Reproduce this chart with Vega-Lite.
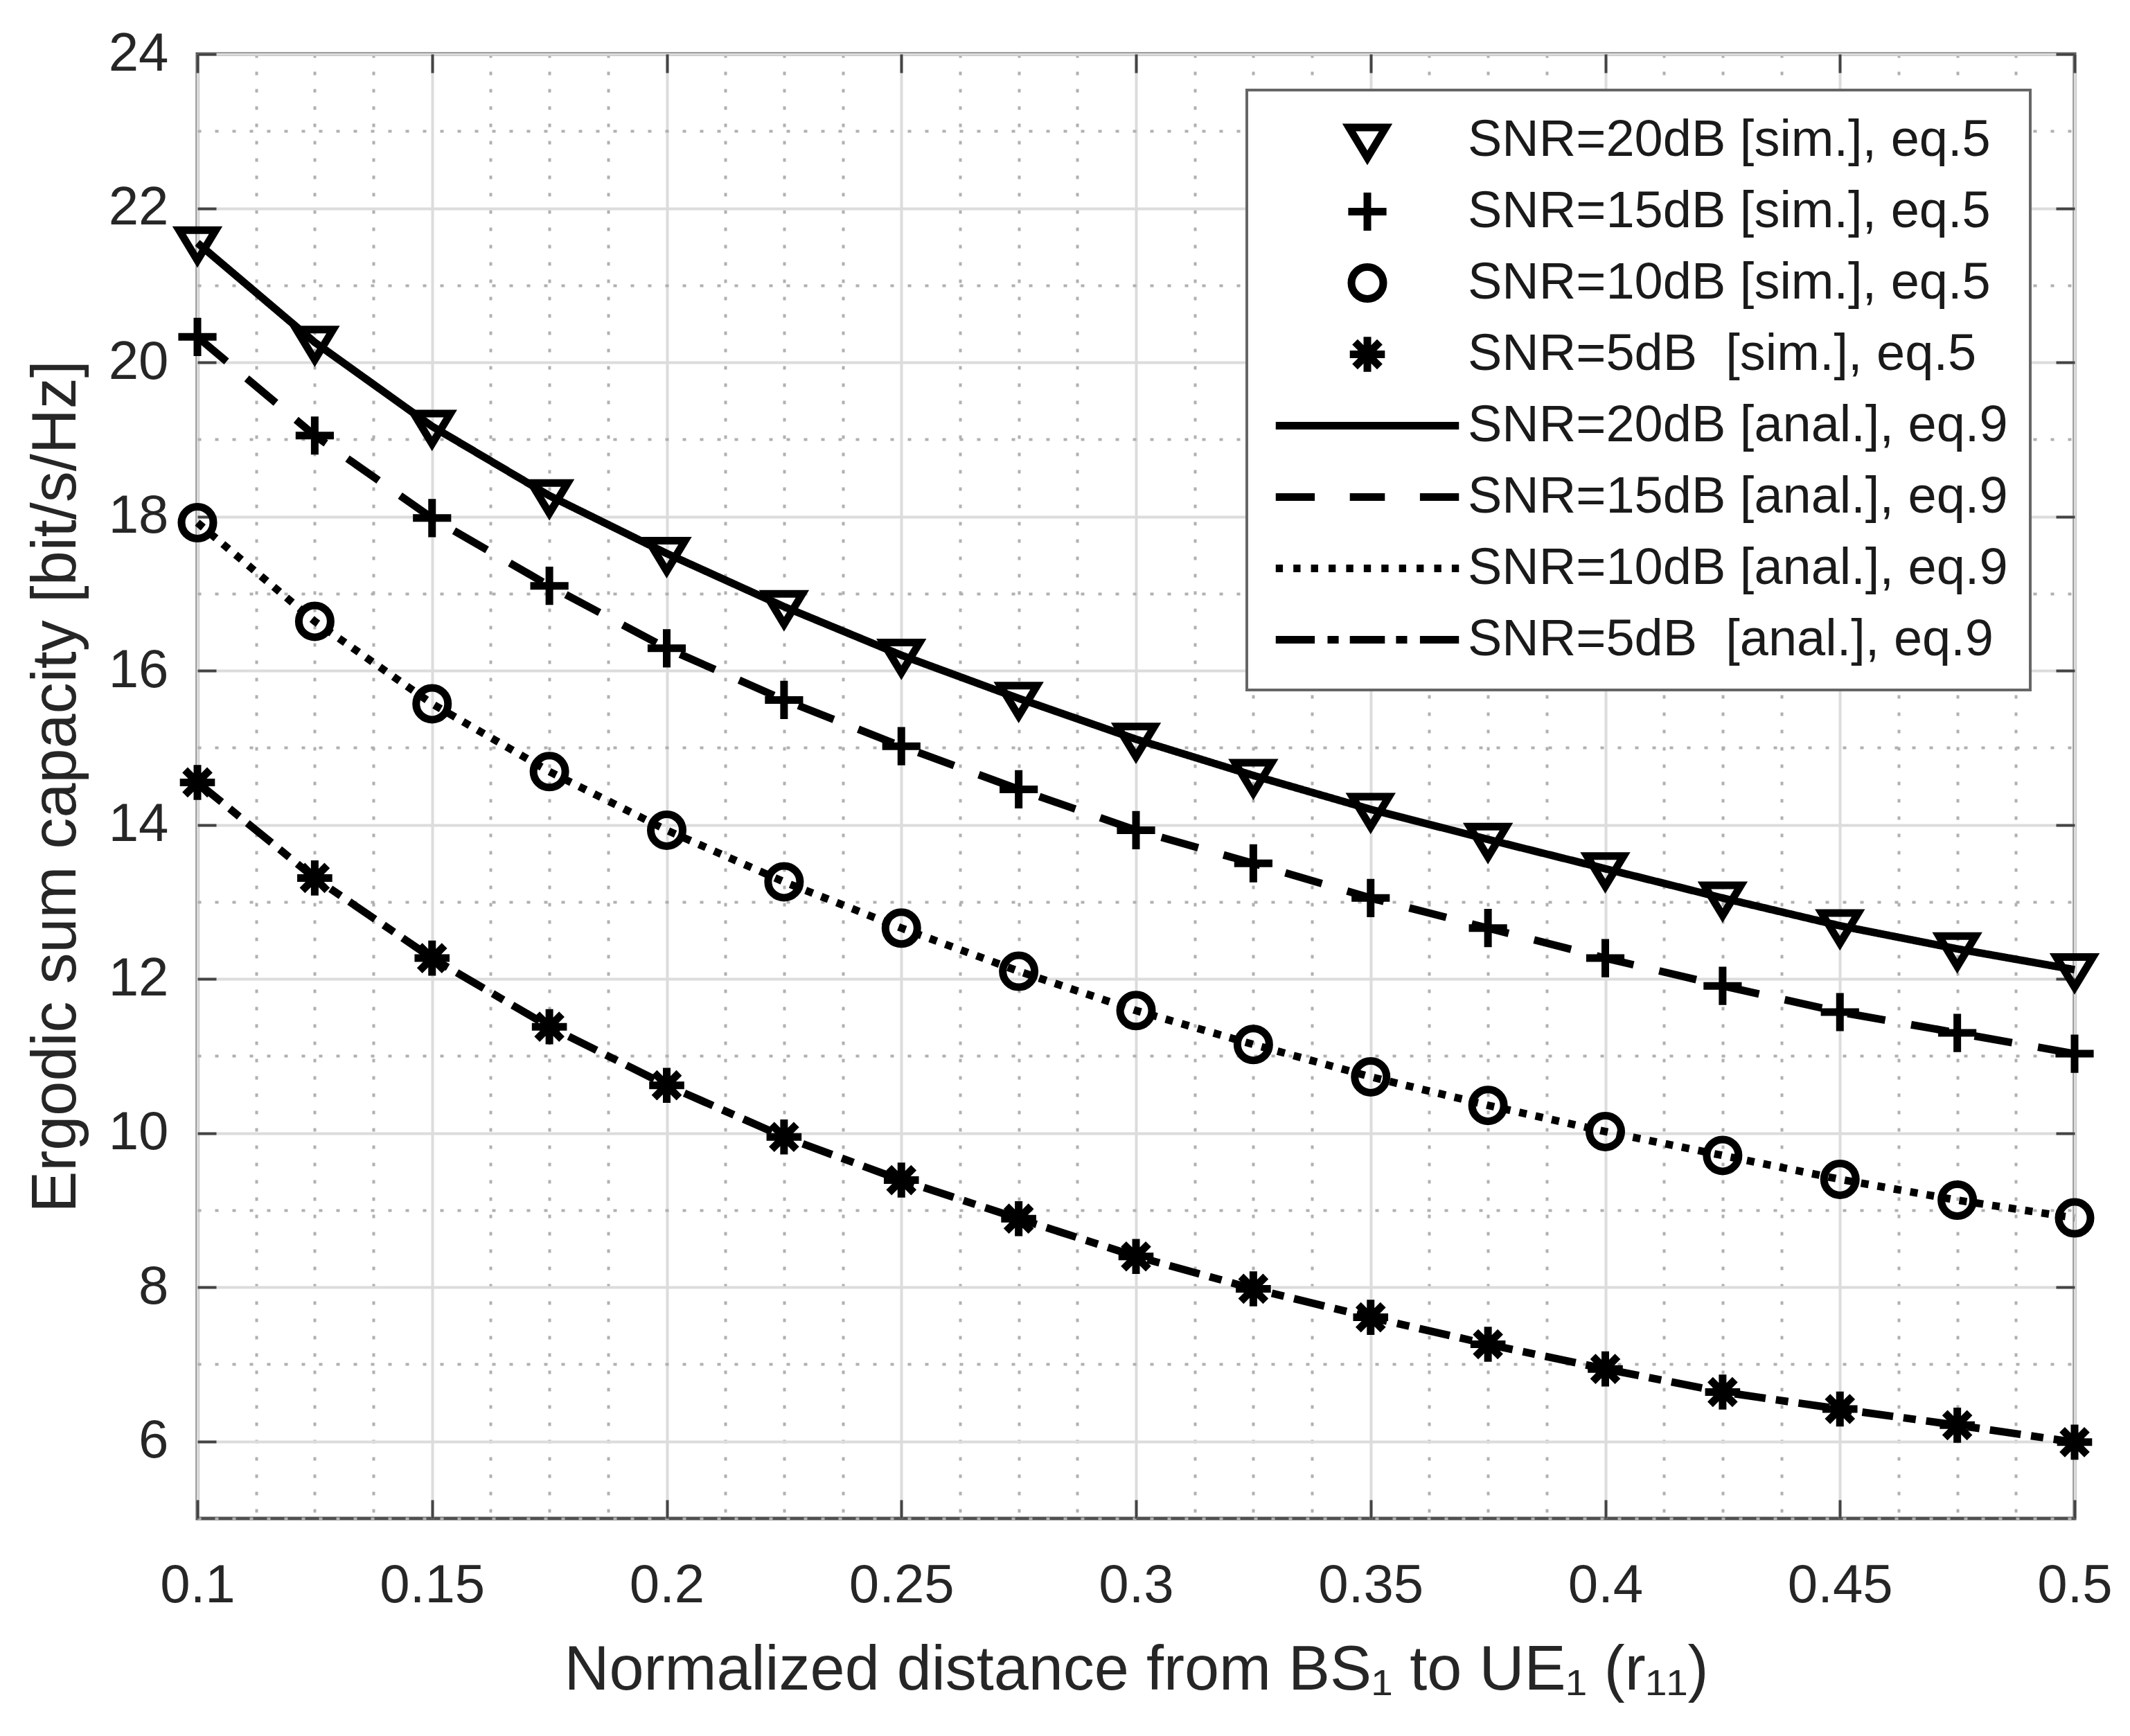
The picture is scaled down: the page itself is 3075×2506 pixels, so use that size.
{
  "$schema": "https://vega.github.io/schema/vega-lite/v6.json",
  "width": 2710,
  "height": 2114,
  "autosize": {"type": "none"},
  "padding": {"left": 285, "top": 78, "right": 80, "bottom": 314},
  "background": "white",
  "config": {
    "font": "Liberation Sans",
    "view": {"stroke": "#505050", "strokeWidth": 5},
    "axis": {
      "labelFontSize": 78,
      "titleFontSize": 90,
      "titleFontWeight": "normal",
      "labelColor": "#262626",
      "titleColor": "#262626",
      "domain": false,
      "tickColor": "#444444",
      "tickWidth": 4,
      "labelOverlap": false,
      "labelFlush": false
    },
    "legend": {
      "strokeWidth": 4
    }
  },
  "data": {
    "values": [
      {"x": 0.1, "y": 21.55, "sim": "SNR=20dB [sim.], eq.5", "anal": "SNR=20dB [anal.], eq.9"},
      {"x": 0.125, "y": 20.26, "sim": "SNR=20dB [sim.], eq.5", "anal": "SNR=20dB [anal.], eq.9"},
      {"x": 0.15, "y": 19.17, "sim": "SNR=20dB [sim.], eq.5", "anal": "SNR=20dB [anal.], eq.9"},
      {"x": 0.175, "y": 18.27, "sim": "SNR=20dB [sim.], eq.5", "anal": "SNR=20dB [anal.], eq.9"},
      {"x": 0.2, "y": 17.52, "sim": "SNR=20dB [sim.], eq.5", "anal": "SNR=20dB [anal.], eq.9"},
      {"x": 0.225, "y": 16.83, "sim": "SNR=20dB [sim.], eq.5", "anal": "SNR=20dB [anal.], eq.9"},
      {"x": 0.25, "y": 16.2, "sim": "SNR=20dB [sim.], eq.5", "anal": "SNR=20dB [anal.], eq.9"},
      {"x": 0.275, "y": 15.64, "sim": "SNR=20dB [sim.], eq.5", "anal": "SNR=20dB [anal.], eq.9"},
      {"x": 0.3, "y": 15.11, "sim": "SNR=20dB [sim.], eq.5", "anal": "SNR=20dB [anal.], eq.9"},
      {"x": 0.325, "y": 14.64, "sim": "SNR=20dB [sim.], eq.5", "anal": "SNR=20dB [anal.], eq.9"},
      {"x": 0.35, "y": 14.2, "sim": "SNR=20dB [sim.], eq.5", "anal": "SNR=20dB [anal.], eq.9"},
      {"x": 0.375, "y": 13.81, "sim": "SNR=20dB [sim.], eq.5", "anal": "SNR=20dB [anal.], eq.9"},
      {"x": 0.4, "y": 13.43, "sim": "SNR=20dB [sim.], eq.5", "anal": "SNR=20dB [anal.], eq.9"},
      {"x": 0.425, "y": 13.05, "sim": "SNR=20dB [sim.], eq.5", "anal": "SNR=20dB [anal.], eq.9"},
      {"x": 0.45, "y": 12.69, "sim": "SNR=20dB [sim.], eq.5", "anal": "SNR=20dB [anal.], eq.9"},
      {"x": 0.475, "y": 12.39, "sim": "SNR=20dB [sim.], eq.5", "anal": "SNR=20dB [anal.], eq.9"},
      {"x": 0.5, "y": 12.12, "sim": "SNR=20dB [sim.], eq.5", "anal": "SNR=20dB [anal.], eq.9"},
      {"x": 0.1, "y": 20.33, "sim": "SNR=15dB [sim.], eq.5", "anal": "SNR=15dB [anal.], eq.9"},
      {"x": 0.125, "y": 19.05, "sim": "SNR=15dB [sim.], eq.5", "anal": "SNR=15dB [anal.], eq.9"},
      {"x": 0.15, "y": 17.98, "sim": "SNR=15dB [sim.], eq.5", "anal": "SNR=15dB [anal.], eq.9"},
      {"x": 0.175, "y": 17.1, "sim": "SNR=15dB [sim.], eq.5", "anal": "SNR=15dB [anal.], eq.9"},
      {"x": 0.2, "y": 16.29, "sim": "SNR=15dB [sim.], eq.5", "anal": "SNR=15dB [anal.], eq.9"},
      {"x": 0.225, "y": 15.62, "sim": "SNR=15dB [sim.], eq.5", "anal": "SNR=15dB [anal.], eq.9"},
      {"x": 0.25, "y": 15.02, "sim": "SNR=15dB [sim.], eq.5", "anal": "SNR=15dB [anal.], eq.9"},
      {"x": 0.275, "y": 14.46, "sim": "SNR=15dB [sim.], eq.5", "anal": "SNR=15dB [anal.], eq.9"},
      {"x": 0.3, "y": 13.93, "sim": "SNR=15dB [sim.], eq.5", "anal": "SNR=15dB [anal.], eq.9"},
      {"x": 0.325, "y": 13.5, "sim": "SNR=15dB [sim.], eq.5", "anal": "SNR=15dB [anal.], eq.9"},
      {"x": 0.35, "y": 13.05, "sim": "SNR=15dB [sim.], eq.5", "anal": "SNR=15dB [anal.], eq.9"},
      {"x": 0.375, "y": 12.66, "sim": "SNR=15dB [sim.], eq.5", "anal": "SNR=15dB [anal.], eq.9"},
      {"x": 0.4, "y": 12.27, "sim": "SNR=15dB [sim.], eq.5", "anal": "SNR=15dB [anal.], eq.9"},
      {"x": 0.425, "y": 11.91, "sim": "SNR=15dB [sim.], eq.5", "anal": "SNR=15dB [anal.], eq.9"},
      {"x": 0.45, "y": 11.57, "sim": "SNR=15dB [sim.], eq.5", "anal": "SNR=15dB [anal.], eq.9"},
      {"x": 0.475, "y": 11.3, "sim": "SNR=15dB [sim.], eq.5", "anal": "SNR=15dB [anal.], eq.9"},
      {"x": 0.5, "y": 11.03, "sim": "SNR=15dB [sim.], eq.5", "anal": "SNR=15dB [anal.], eq.9"},
      {"x": 0.1, "y": 17.92, "sim": "SNR=10dB [sim.], eq.5", "anal": "SNR=10dB [anal.], eq.9"},
      {"x": 0.125, "y": 16.64, "sim": "SNR=10dB [sim.], eq.5", "anal": "SNR=10dB [anal.], eq.9"},
      {"x": 0.15, "y": 15.57, "sim": "SNR=10dB [sim.], eq.5", "anal": "SNR=10dB [anal.], eq.9"},
      {"x": 0.175, "y": 14.69, "sim": "SNR=10dB [sim.], eq.5", "anal": "SNR=10dB [anal.], eq.9"},
      {"x": 0.2, "y": 13.93, "sim": "SNR=10dB [sim.], eq.5", "anal": "SNR=10dB [anal.], eq.9"},
      {"x": 0.225, "y": 13.26, "sim": "SNR=10dB [sim.], eq.5", "anal": "SNR=10dB [anal.], eq.9"},
      {"x": 0.25, "y": 12.66, "sim": "SNR=10dB [sim.], eq.5", "anal": "SNR=10dB [anal.], eq.9"},
      {"x": 0.275, "y": 12.1, "sim": "SNR=10dB [sim.], eq.5", "anal": "SNR=10dB [anal.], eq.9"},
      {"x": 0.3, "y": 11.59, "sim": "SNR=10dB [sim.], eq.5", "anal": "SNR=10dB [anal.], eq.9"},
      {"x": 0.325, "y": 11.15, "sim": "SNR=10dB [sim.], eq.5", "anal": "SNR=10dB [anal.], eq.9"},
      {"x": 0.35, "y": 10.73, "sim": "SNR=10dB [sim.], eq.5", "anal": "SNR=10dB [anal.], eq.9"},
      {"x": 0.375, "y": 10.36, "sim": "SNR=10dB [sim.], eq.5", "anal": "SNR=10dB [anal.], eq.9"},
      {"x": 0.4, "y": 10.02, "sim": "SNR=10dB [sim.], eq.5", "anal": "SNR=10dB [anal.], eq.9"},
      {"x": 0.425, "y": 9.71, "sim": "SNR=10dB [sim.], eq.5", "anal": "SNR=10dB [anal.], eq.9"},
      {"x": 0.45, "y": 9.4, "sim": "SNR=10dB [sim.], eq.5", "anal": "SNR=10dB [anal.], eq.9"},
      {"x": 0.475, "y": 9.13, "sim": "SNR=10dB [sim.], eq.5", "anal": "SNR=10dB [anal.], eq.9"},
      {"x": 0.5, "y": 8.9, "sim": "SNR=10dB [sim.], eq.5", "anal": "SNR=10dB [anal.], eq.9"},
      {"x": 0.1, "y": 14.55, "sim": "SNR=5dB\u00a0 [sim.], eq.5", "anal": "SNR=5dB\u00a0 [anal.], eq.9"},
      {"x": 0.125, "y": 13.31, "sim": "SNR=5dB\u00a0 [sim.], eq.5", "anal": "SNR=5dB\u00a0 [anal.], eq.9"},
      {"x": 0.15, "y": 12.27, "sim": "SNR=5dB\u00a0 [sim.], eq.5", "anal": "SNR=5dB\u00a0 [anal.], eq.9"},
      {"x": 0.175, "y": 11.38, "sim": "SNR=5dB\u00a0 [sim.], eq.5", "anal": "SNR=5dB\u00a0 [anal.], eq.9"},
      {"x": 0.2, "y": 10.62, "sim": "SNR=5dB\u00a0 [sim.], eq.5", "anal": "SNR=5dB\u00a0 [anal.], eq.9"},
      {"x": 0.225, "y": 9.95, "sim": "SNR=5dB\u00a0 [sim.], eq.5", "anal": "SNR=5dB\u00a0 [anal.], eq.9"},
      {"x": 0.25, "y": 9.39, "sim": "SNR=5dB\u00a0 [sim.], eq.5", "anal": "SNR=5dB\u00a0 [anal.], eq.9"},
      {"x": 0.275, "y": 8.89, "sim": "SNR=5dB\u00a0 [sim.], eq.5", "anal": "SNR=5dB\u00a0 [anal.], eq.9"},
      {"x": 0.3, "y": 8.4, "sim": "SNR=5dB\u00a0 [sim.], eq.5", "anal": "SNR=5dB\u00a0 [anal.], eq.9"},
      {"x": 0.325, "y": 7.98, "sim": "SNR=5dB\u00a0 [sim.], eq.5", "anal": "SNR=5dB\u00a0 [anal.], eq.9"},
      {"x": 0.35, "y": 7.61, "sim": "SNR=5dB\u00a0 [sim.], eq.5", "anal": "SNR=5dB\u00a0 [anal.], eq.9"},
      {"x": 0.375, "y": 7.26, "sim": "SNR=5dB\u00a0 [sim.], eq.5", "anal": "SNR=5dB\u00a0 [anal.], eq.9"},
      {"x": 0.4, "y": 6.94, "sim": "SNR=5dB\u00a0 [sim.], eq.5", "anal": "SNR=5dB\u00a0 [anal.], eq.9"},
      {"x": 0.425, "y": 6.64, "sim": "SNR=5dB\u00a0 [sim.], eq.5", "anal": "SNR=5dB\u00a0 [anal.], eq.9"},
      {"x": 0.45, "y": 6.42, "sim": "SNR=5dB\u00a0 [sim.], eq.5", "anal": "SNR=5dB\u00a0 [anal.], eq.9"},
      {"x": 0.475, "y": 6.21, "sim": "SNR=5dB\u00a0 [sim.], eq.5", "anal": "SNR=5dB\u00a0 [anal.], eq.9"},
      {"x": 0.5, "y": 5.99, "sim": "SNR=5dB\u00a0 [sim.], eq.5", "anal": "SNR=5dB\u00a0 [anal.], eq.9"}
    ]
  },
  "resolve": {"axis": {"x": "independent", "y": "independent"}},
  "layer": [
    {
      "mark": {"type": "line", "color": "black", "strokeWidth": 11, "strokeCap": "butt"},
      "encoding": {
        "x": {
          "field": "x", "type": "quantitative",
          "scale": {"domain": [0.1, 0.5], "nice": false, "zero": false},
          "axis": {
            "orient": "bottom",
            "title": "Normalized distance from BS₁ to UE₁ (r₁₁)",
            "values": [0.1, 0.1125, 0.125, 0.1375, 0.15, 0.1625, 0.175, 0.1875, 0.2, 0.2125, 0.225, 0.2375, 0.25, 0.2625, 0.275, 0.2875, 0.3, 0.3125, 0.325, 0.3375, 0.35, 0.3625, 0.375, 0.3875, 0.4, 0.4125, 0.425, 0.4375, 0.45, 0.4625, 0.475, 0.4875, 0.5],
            "labelExpr": "abs(datum.value*20-round(datum.value*20))<0.000001 ? toString(datum.value) : ''",
            "grid": true,
            "gridDash": {"condition": {"test": "abs(datum.value*20-round(datum.value*20))<0.000001", "value": []}, "value": [5, 20]},
            "gridColor": {"condition": {"test": "abs(datum.value*20-round(datum.value*20))<0.000001", "value": "#dcdcdc"}, "value": "#b0b0b0"},
            "gridWidth": 4,
            "ticks": true,
            "tickSize": -27,
            "tickOpacity": {"condition": {"test": "abs(datum.value*20-round(datum.value*20))<0.000001", "value": 1}, "value": 0},
            "labelPadding": 85,
            "titlePadding": 39
          }
        },
        "y": {
          "field": "y", "type": "quantitative",
          "scale": {"domain": [5, 24], "nice": false, "zero": false},
          "axis": {
            "orient": "left",
            "title": "Ergodic sum capacity [bit/s/Hz]",
            "values": [5, 6, 7, 8, 9, 10, 11, 12, 13, 14, 15, 16, 17, 18, 19, 20, 21, 22, 23, 24],
            "labelExpr": "datum.value % 2 == 0 ? toString(datum.value) : ''",
            "grid": true,
            "gridDash": {"condition": {"test": "datum.value % 2 == 0", "value": []}, "value": [5, 20]},
            "gridColor": {"condition": {"test": "datum.value % 2 == 0", "value": "#dcdcdc"}, "value": "#b0b0b0"},
            "gridWidth": 4,
            "ticks": true,
            "tickSize": -27,
            "tickOpacity": {"condition": {"test": "datum.value % 2 == 0", "value": 1}, "value": 0},
            "labelPadding": 69,
            "titlePadding": 29
          }
        },
        "strokeDash": {
          "field": "anal", "type": "nominal",
          "scale": {
            "domain": ["SNR=20dB [anal.], eq.9", "SNR=15dB [anal.], eq.9", "SNR=10dB [anal.], eq.9", "SNR=5dB\u00a0 [anal.], eq.9"],
            "range": [[1, 0], [55, 38], [11, 13], [45, 15, 18, 15]]
          },
          "legend": null
        }
      }
    },
    {
      "mark": {"type": "point", "filled": false, "color": "black", "strokeWidth": 11, "size": 2116, "opacity": 1},
      "encoding": {
        "x": {
          "field": "x", "type": "quantitative",
          "axis": {
            "orient": "top", "title": null, "labels": false, "grid": false,
            "values": [0.1, 0.15, 0.2, 0.25, 0.3, 0.35, 0.4, 0.45, 0.5],
            "ticks": true, "tickSize": -27
          }
        },
        "y": {
          "field": "y", "type": "quantitative",
          "axis": {
            "orient": "right", "title": null, "labels": false, "grid": false,
            "values": [6, 8, 10, 12, 14, 16, 18, 20, 22, 24],
            "ticks": true, "tickSize": -27
          }
        },
        "shape": {
          "field": "sim", "type": "nominal",
          "scale": {
            "domain": ["SNR=20dB [sim.], eq.5", "SNR=15dB [sim.], eq.5", "SNR=10dB [sim.], eq.5", "SNR=5dB\u00a0 [sim.], eq.5", "SNR=20dB [anal.], eq.9", "SNR=15dB [anal.], eq.9", "SNR=10dB [anal.], eq.9", "SNR=5dB\u00a0 [anal.], eq.9"],
            "range": [
              "M-1.15,-0.8L1.15,-0.8L0,1.1Z",
              "M-1.2,0H1.2M0,-1.2V1.2",
              "M1,0A1,1 0 1,1 -1,0A1,1 0 1,1 1,0Z",
              "M-1.1,0H1.1M0,-1.1V1.1M-0.78,-0.78L0.78,0.78M-0.78,0.78L0.78,-0.78",
              "M-5.75,0H5.75",
              "M-5.75,0H-3.3M-1.1,0H1.1M3.3,0H5.75",
              "M-5.75,0H-5.3M-4.645,0H-4.195M-3.54,0H-3.09M-2.435,0H-1.985M-1.33,0H-0.88M-0.225,0H0.225M0.88,0H1.33M1.985,0H2.435M3.09,0H3.54M4.195,0H4.645M5.3,0H5.75",
              "M-5.75,0H-3.3M-2.5,0H-1.8M-1.1,0H1.1M1.8,0H2.5M3.3,0H5.75"
            ]
          },
          "legend": {
            "title": null,
            "orient": "none",
            "legendX": 1515,
            "legendY": 52,
            "padding": 32,
            "fillColor": "white",
            "strokeColor": "#666666",
            "symbolSize": 2116,
            "symbolStrokeWidth": 11,
            "symbolStrokeColor": "black",
            "symbolFillColor": "transparent",
            "symbolOffset": 105,
            "labelOffset": 108,
            "labelFontSize": 74,
            "labelColor": "#1a1a1a",
            "labelLimit": 3000,
            "clipHeight": 81,
            "rowPadding": 22
          }
        }
      }
    }
  ]
}
